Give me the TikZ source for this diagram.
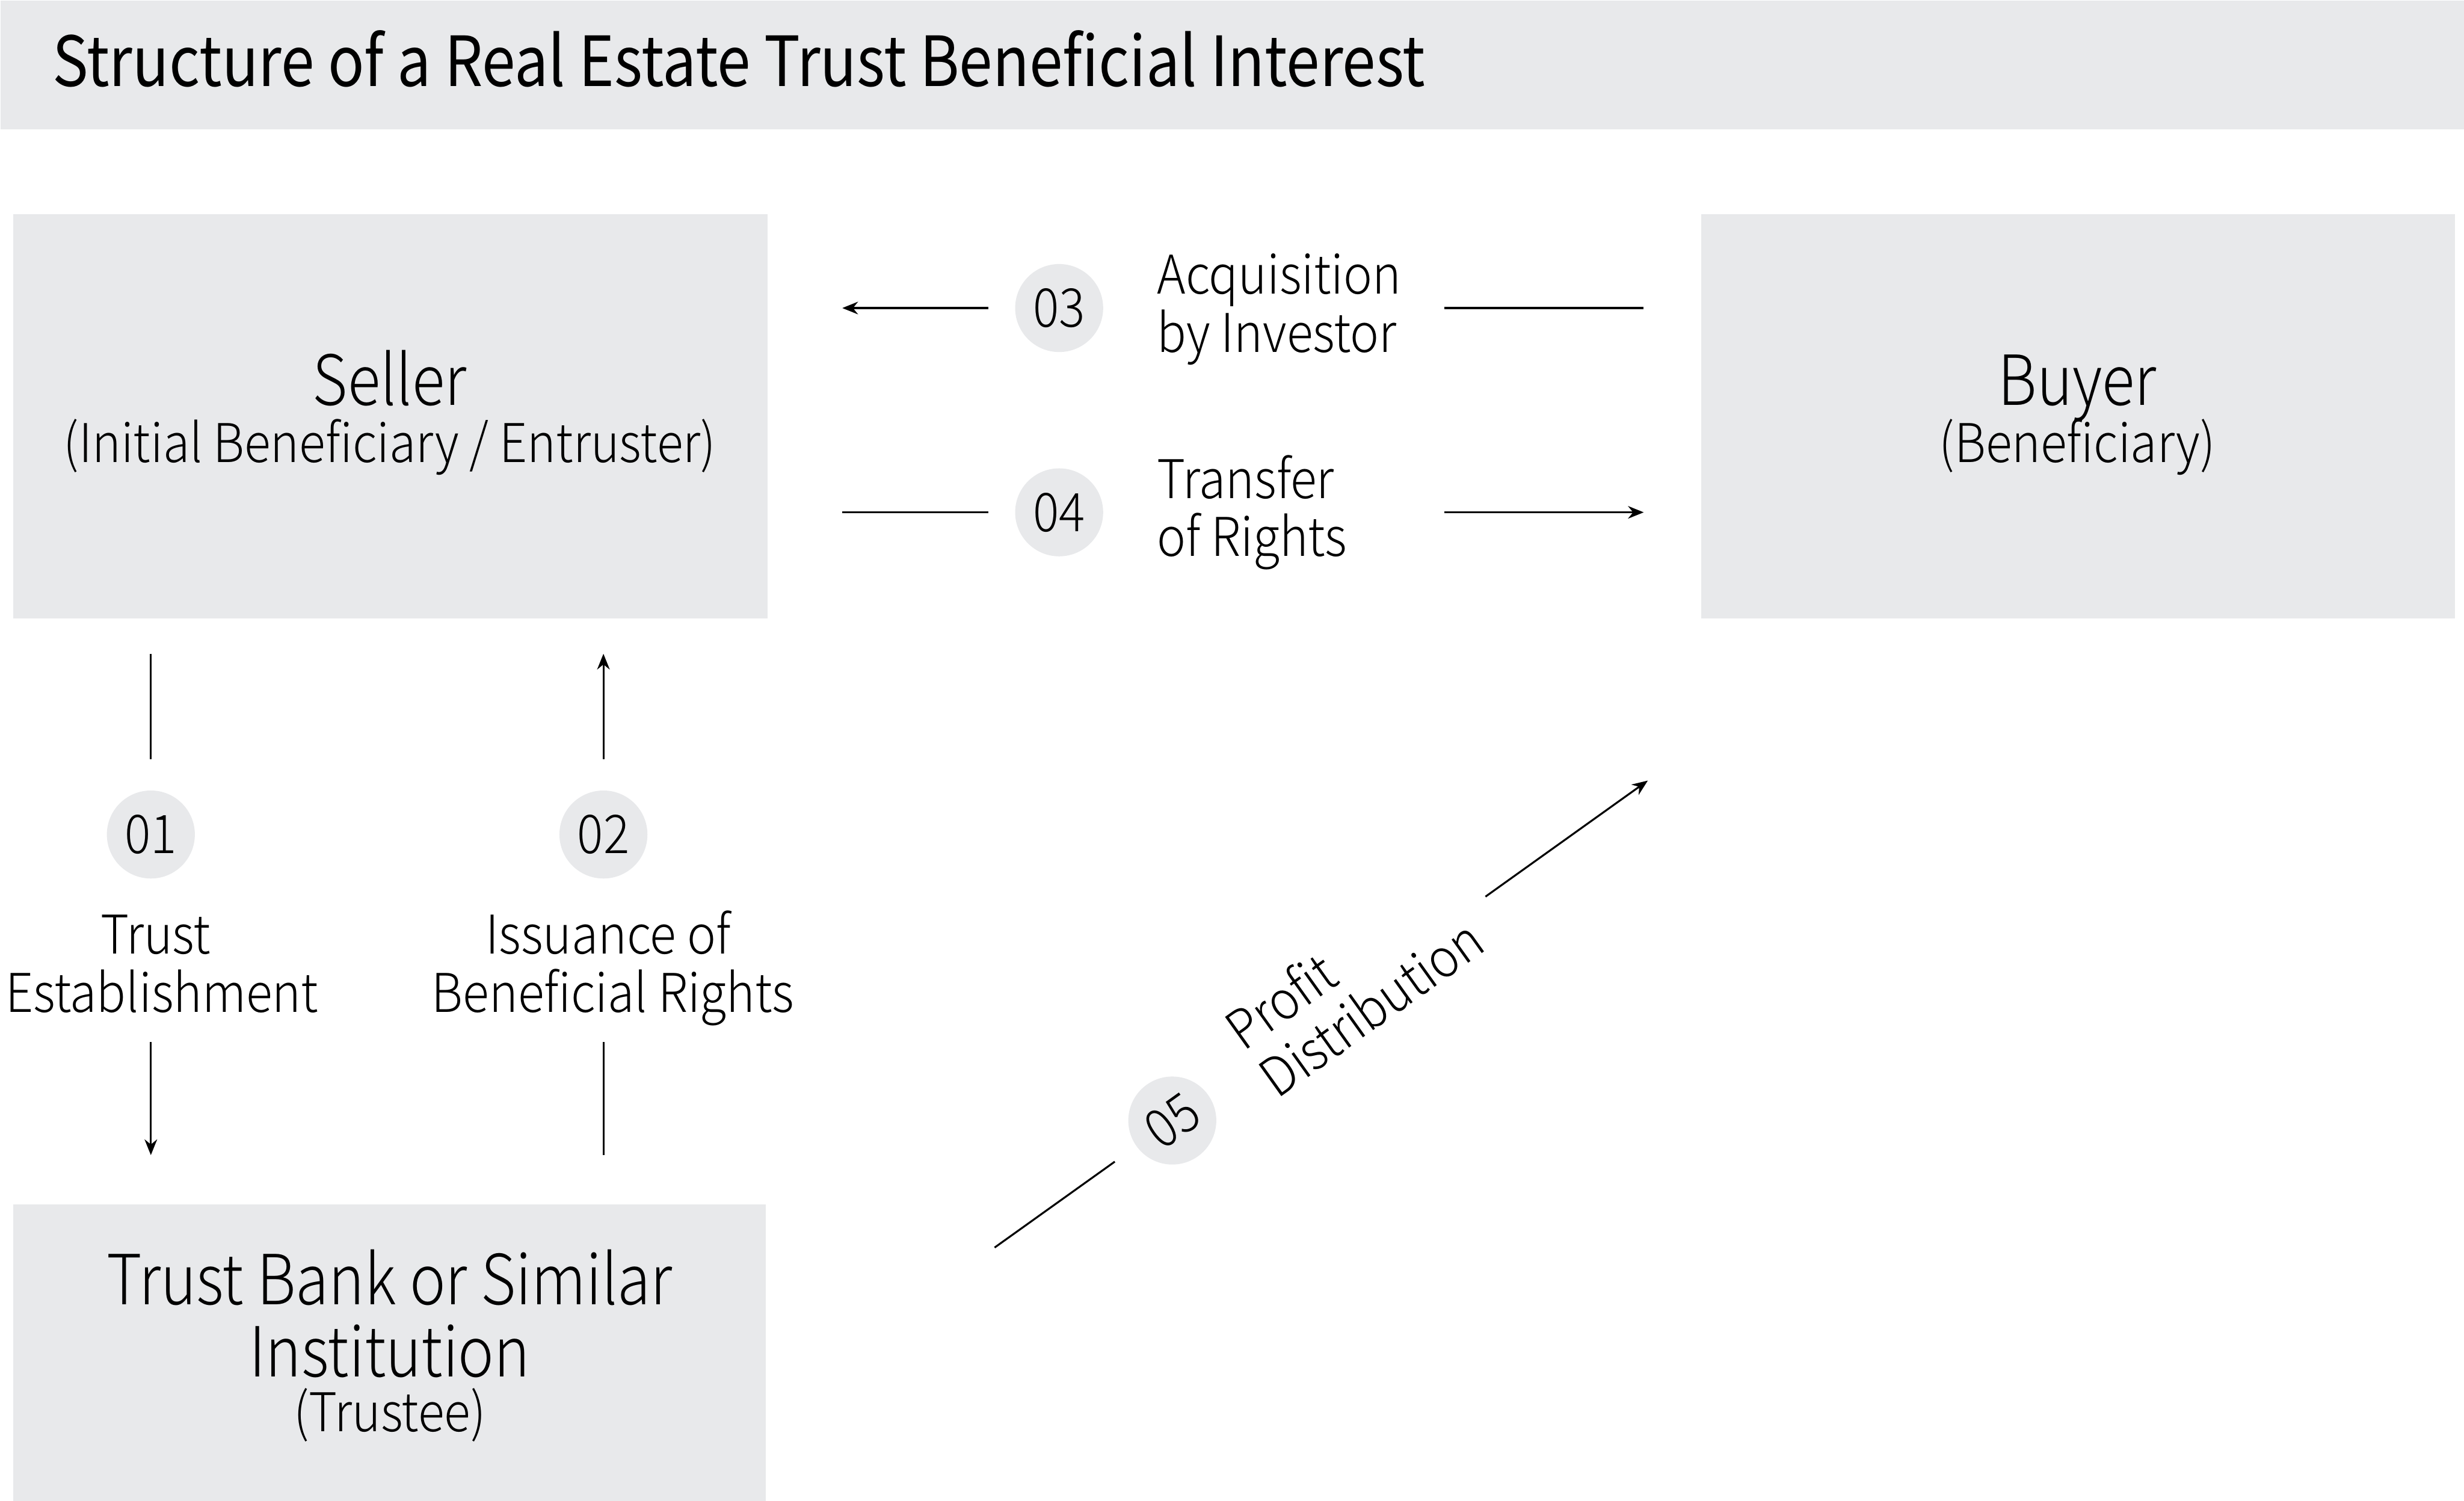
\documentclass[tikz,border=0pt]{standalone}
\usepackage{fontspec}
\setmainfont{Noto Sans CJK JP}
\newfontfamily\titlef[FakeStretch=0.87]{Noto Sans CJK JP}
\IfFontExistsTF{Noto Sans CJK JP Light}{%
  \newfontfamily\lightf[FakeStretch=0.91]{Noto Sans CJK JP Light}%
  \newfontfamily\headf[FakeStretch=0.875]{Noto Sans CJK JP Light}}{%
  \newfontfamily\lightf[FakeStretch=0.91]{Noto Sans CJK JP}%
  \newfontfamily\headf[FakeStretch=0.875]{Noto Sans CJK JP}}
\usetikzlibrary{arrows.meta}
\definecolor{panelgray}{HTML}{E8E9EB}
\tikzset{
  panel/.style={fill=panelgray, inner sep=0pt, anchor=north west},
  badge/.style={circle, fill=panelgray, minimum size=28pt, inner sep=0pt, font=\lightf\fontsize{17}{20}\selectfont},
  lbl/.style={inner sep=0pt, font=\lightf\fontsize{17}{20}\selectfont},
  head/.style={inner sep=0pt, font=\headf\fontsize{22}{26}\selectfont},
  flow/.style={line width=0.6pt},
  tip/.style={-{Stealth[length=5pt,width=4pt]}}
}
\begin{document}
\begin{tikzpicture}[x=0.5pt,y=-0.5pt]
\useasboundingbox (0,0) rectangle (1568,955);
% title band
\node[panel, minimum width=784pt, minimum height=41pt] (band) at (0,0) {};
\node[anchor=base west, inner sep=0pt, font=\titlef\fontsize{22}{26}\selectfont] (title) at (33,55) {Structure of a Real Estate Trust Beneficial Interest};
% boxes
\node[panel, minimum width=240pt, minimum height=128.5pt] (seller) at (8,136) {};
\node[panel, minimum width=240pt, minimum height=128.5pt] (buyer) at (1082,136) {};
\node[panel, minimum width=239.5pt, minimum height=94.5pt] (trustee) at (8,766) {};
\node[head, anchor=base] (sellername) at (248,258) {Seller};
\node[lbl, anchor=base] (sellerrole) at (248,294) {(Initial Beneficiary / Entruster)};
\node[head, anchor=base] (buyername) at (1322,258) {Buyer};
\node[lbl, anchor=base] (buyerrole) at (1322,294) {(Beneficiary)};
\node[head, anchor=base] (trusteename1) at (248,830) {Trust Bank or Similar};
\node[head, anchor=base] (trusteename2) at (248,876) {Institution};
\node[lbl, anchor=base] (trusteerole) at (248,911) {(Trustee)};
% row 03
\node[badge] (c03) at (674,196) {03};
\coordinate (a03l) at (629,196); \coordinate (a03e) at (536,196);
\coordinate (a03r) at (919,196); \coordinate (a03f) at (1046,196);
\draw[flow,tip] (a03l) -- (a03e);
\draw[flow] (a03r) -- (a03f);
\node[lbl, anchor=base west] (l03a) at (736,187) {Acquisition};
\node[lbl, anchor=base west] (l03b) at (736,224) {by Investor};
% row 04
\node[badge] (c04) at (674,326) {04};
\coordinate (a04s) at (536,326); \coordinate (a04l) at (629,326);
\coordinate (a04r) at (919,326); \coordinate (a04e) at (1046,326);
\draw[flow] (a04s) -- (a04l);
\draw[flow,tip] (a04r) -- (a04e);
\node[lbl, anchor=base west] (l04a) at (736,317) {Transfer};
\node[lbl, anchor=base west] (l04b) at (736,354) {of Rights};
% column 01
\node[badge] (c01) at (96,531) {01};
\coordinate (a01s) at (96,416); \coordinate (a01t) at (96,483);
\coordinate (a01b) at (96,663); \coordinate (a01e) at (96,735);
\draw[flow] (a01s) -- (a01t);
\draw[flow,tip] (a01b) -- (a01e);
\node[lbl, anchor=base] (l01a) at (99,607) {Trust};
\node[lbl, anchor=base] (l01b) at (103,644) {Establishment};
% column 02
\node[badge] (c02) at (384,531) {02};
\coordinate (a02e) at (384,416); \coordinate (a02t) at (384,483);
\coordinate (a02b) at (384,663); \coordinate (a02s) at (384,735);
\draw[flow,tip] (a02t) -- (a02e);
\draw[flow] (a02s) -- (a02b);
\node[lbl, anchor=base] (l02a) at (387,607) {Issuance of};
\node[lbl, anchor=base] (l02b) at (390,644) {Beneficial Rights};
% row 05 (diagonal)
\begin{scope}[shift={(746,713)}, rotate=35.56]
\node[badge, transform shape] (c05) at (0,0) {05};
\coordinate (a05s) at (-139,0); \coordinate (a05l) at (-45,0);
\coordinate (a05r) at (245,0); \coordinate (a05e) at (372,0);
\draw[flow] (a05s) -- (a05l);
\draw[flow,tip] (a05r) -- (a05e);
\node[lbl, anchor=base west, transform shape] (l05a) at (62,-9) {Profit};
\node[lbl, anchor=base west, transform shape] (l05b) at (62,28) {Distribution};
\end{scope}
\end{tikzpicture}
\end{document}
